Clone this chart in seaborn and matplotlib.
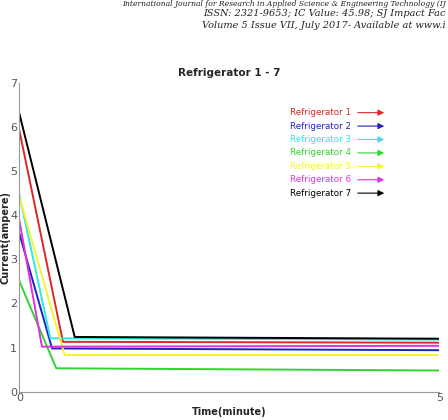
import matplotlib
matplotlib.use("Agg")
import matplotlib.pyplot as plt
import seaborn as sns
import pandas as pd

# data
names = ["Refrigerator 1", "Refrigerator 2", "Refrigerator 3", "Refrigerator 4",
         "Refrigerator 5", "Refrigerator 6", "Refrigerator 7"]
colors = ["#e0262a", "#2222c0", "#30e6e6", "#30d630", "#f4f430", "#e030e0", "#000000"]
start_val = [5.93, 3.59, 4.47, 2.51, 4.42, 3.89, 6.31]
knee_time = [0.52, 0.39, 0.37, 0.44, 0.54, 0.27, 0.66]
knee_val = [1.13, 0.98, 1.21, 0.53, 0.83, 1.02, 1.24]
end_val = [1.11, 0.94, 1.18, 0.48, 0.83, 1.04, 1.20]
end_time = 5

rows = []
for i, n in enumerate(names):
    rows.append((n, 0, start_val[i]))
    rows.append((n, knee_time[i], knee_val[i]))
    rows.append((n, end_time, end_val[i]))
df = pd.DataFrame(rows, columns=["fridge", "time", "current"])

sns.set_style("white")
fig = plt.figure(figsize=(4.48, 4.2), dpi=100)
ax = fig.add_axes([0.043, 0.0674, 0.938, 0.7357])

sns.lineplot(data=df, x="time", y="current", hue="fridge", palette=colors,
             sort=False, linewidth=1.4, legend=False, ax=ax)

ax.set_xlim(0, 5)
ax.set_ylim(0, 7)
ax.set_xticks([0, 5])
ax.set_yticks(range(8))
ax.tick_params(direction="in", length=3, labelsize=8, colors="#555555", pad=1.5)
ax.tick_params(axis="x", pad=1)
for s in ["top", "right"]:
    ax.spines[s].set_visible(False)
for s in ["left", "bottom"]:
    ax.spines[s].set_color("#999999")
    ax.spines[s].set_linewidth(0.8)

ax.set_title("Refrigerator 1 - 7", fontsize=7.5, fontweight="bold", pad=5)
ax.set_xlabel("Time(minute)", fontsize=7, fontweight="bold", labelpad=3)
ax.set_ylabel("Current(ampere)", fontsize=7, fontweight="bold")
ax.yaxis.set_label_coords(-0.021, 0.5)

# legend drawn as coloured text with arrows
for i, n in enumerate(names):
    y = 0.903 - i * 0.0434
    ax.text(0.644, y, n, color=colors[i], fontsize=6.3, va="center",
            transform=ax.transAxes)
    ax.annotate("", xy=(0.875, y), xytext=(0.799, y), xycoords="axes fraction",
                arrowprops=dict(arrowstyle="-|>", color=colors[i], lw=0.8,
                                mutation_scale=9))

# journal header from the page crop (cut at the right edge as in the reference)
hdr = dict(family="DejaVu Serif", style="italic", color="#222222", ha="right")
fig.text(0.995, 1.0, "International Journal for Research in Applied Science & Engineering Technology (IJ",
         va="top", fontsize=5.5, **hdr)
fig.text(0.995, 0.969, "ISSN: 2321-9653; IC Value: 45.98; SJ Impact Fac", va="center", fontsize=7, **hdr)
fig.text(0.995, 0.939, "Volume 5 Issue VII, July 2017- Available at www.i", va="center", fontsize=7, **hdr)

fig.savefig("out.png", dpi=100)
